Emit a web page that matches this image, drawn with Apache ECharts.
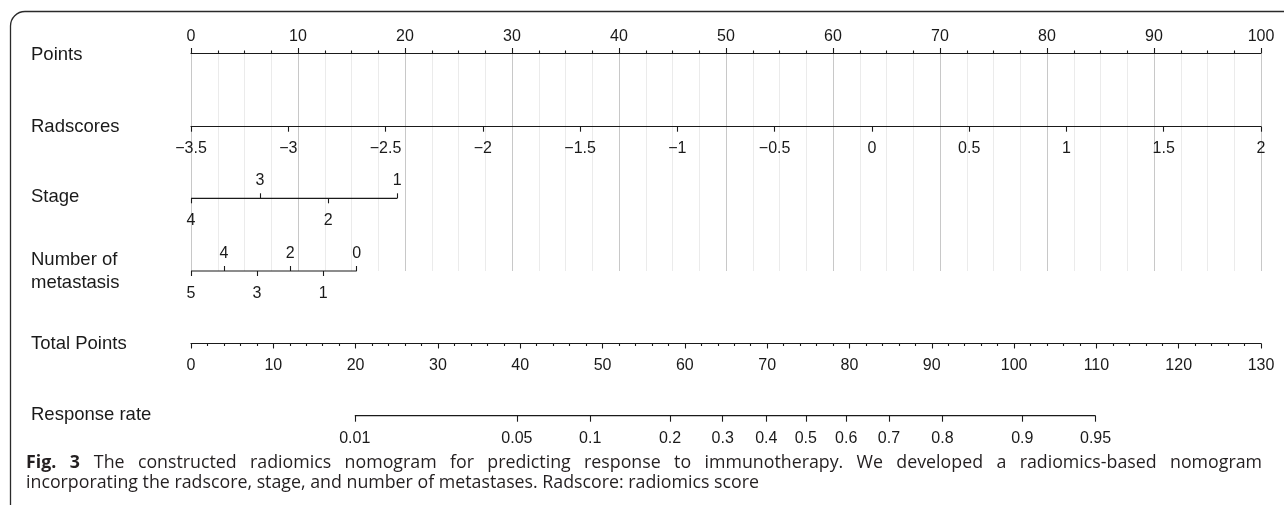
<!DOCTYPE html>
<html><head><meta charset="utf-8">
<script src="https://cdn.jsdelivr.net/npm/echarts@6/dist/echarts.min.js"></script>
<style>html,body{margin:0;padding:0;background:#fff}#c{width:1284px;height:505px}</style>
</head><body><div id="c"></div>
<script>
// ---------- DATA ----------
const pointsRange = [0, 100];
const pointsStep = 10;
const radscoreRange = [-3.5, 2];
const radscoreStep = 0.5;
const stageLabels = ['4', '3', '2', '1'];
const stagePoints = [0, 6.45, 12.83, 19.28];
const metLabels = ['5', '4', '3', '2', '1', '0'];
const metPoints = [0, 3.08, 6.17, 9.28, 12.36, 15.49];
const totalRange = [0, 130];
const totalStep = 10;
const rrLabels = ['0.01', '0.05', '0.1', '0.2', '0.3', '0.4', '0.5', '0.6', '0.7', '0.8', '0.9', '0.95'];
const rrTotalPoints = [19.9, 39.6, 48.5, 58.2, 64.6, 69.9, 74.7, 79.6, 84.8, 91.3, 101.0, 109.9];
const rowLabels = ['Points', 'Radscores', 'Stage', 'Number of', 'metastasis', 'Total Points', 'Response rate'];
const captionBold = 'Fig. 3';
const captionLine1 = 'The constructed radiomics nomogram for predicting response to immunotherapy. We developed a radiomics-based nomogram';
const captionLine2 = 'incorporating the radscore, stage, and number of metastases. Radscore: radiomics score';

// ---------- LAYOUT ----------
const FONT = '"Liberation Sans", Arial, sans-serif';
const CAPFONT = '"Open Sans", "Noto Sans", sans-serif';
const ink = '#1a1a1a';
const capInk = '#231f20';
const L = 191, R = 23;
const Y = { points: 53, rad: 126.7, stage: 198.3, met: 271, total: 343.5, rr: 415.7 };
const labelY = [54.5, 126.7, 197.3, 260, 282.7, 344.3, 415];

const lbl = (margin, extra) => Object.assign({ fontSize: 16, color: ink, fontFamily: FONT, margin: margin, showMinLabel: true, showMaxLabel: true }, extra || {});
const tick = (len, extra) => Object.assign({ show: true, length: len, lineStyle: { color: ink, width: 1.1 } }, extra || {});
const line = { show: true, onZero: false, lineStyle: { color: ink, width: 1.2 } };
const noAxisLine = { show: false, onZero: false };
const noLine = { show: false };
const lookup = (vals, labs) => v => { for (let i = 0; i < vals.length; i++) if (Math.abs(vals[i] - v) < 1e-6) return labs[i]; return ''; };
const pick = (arr, parity) => arr.filter((_, i) => i % 2 === parity);
const minus = v => (v < 0 ? '\u2212' + Math.abs(v) : String(v));

const grids = [
  { left: L, right: R, top: Y.points, height: Y.met - Y.points },
  { left: L, right: R, top: Y.rad, height: 0 },
  { left: L, right: R, top: Y.stage, height: 0 },
  { left: L, right: R, top: Y.met, height: 0 },
  { left: L, right: R, top: Y.total, height: 0 },
  { left: L, right: R, top: Y.rr, height: 0 }
];
const yAxes = grids.map((g, i) => ({ gridIndex: i, type: 'value', min: 0, max: 1, show: false }));

const xAxes = [
  { gridIndex: 0, type: 'value', position: 'top', min: pointsRange[0], max: pointsRange[1], interval: pointsStep,
    axisLine: line, axisTick: tick(5), minorTick: { show: true, splitNumber: 4, length: 2.5, lineStyle: { color: ink, width: 1.1 } },
    axisLabel: lbl(8.5), splitLine: { show: true, lineStyle: { color: '#c8c8c8', width: 1 } },
    minorSplitLine: { show: true, lineStyle: { color: '#ebebeb', width: 1 } } },
  { gridIndex: 1, type: 'value', position: 'bottom', min: radscoreRange[0], max: radscoreRange[1], interval: radscoreStep,
    axisLine: line, axisTick: tick(5), axisLabel: lbl(13.5, { formatter: minus }), splitLine: noLine },
  { gridIndex: 2, type: 'value', position: 'top', min: pointsRange[0], max: pointsRange[1],
    axisLine: noAxisLine, axisTick: tick(5, { customValues: pick(stagePoints, 1) }),
    axisLabel: lbl(10, { customValues: pick(stagePoints, 1), formatter: lookup(stagePoints, stageLabels) }), splitLine: noLine },
  { gridIndex: 2, type: 'value', position: 'bottom', min: pointsRange[0], max: pointsRange[1],
    axisLine: noAxisLine, axisTick: tick(5, { customValues: pick(stagePoints, 0) }),
    axisLabel: lbl(14.5, { customValues: pick(stagePoints, 0), formatter: lookup(stagePoints, stageLabels) }), splitLine: noLine },
  { gridIndex: 3, type: 'value', position: 'top', min: pointsRange[0], max: pointsRange[1],
    axisLine: noAxisLine, axisTick: tick(5, { customValues: pick(metPoints, 1) }),
    axisLabel: lbl(9.5, { customValues: pick(metPoints, 1), formatter: lookup(metPoints, metLabels) }), splitLine: noLine },
  { gridIndex: 3, type: 'value', position: 'bottom', min: pointsRange[0], max: pointsRange[1],
    axisLine: noAxisLine, axisTick: tick(5, { customValues: pick(metPoints, 0) }),
    axisLabel: lbl(14.5, { customValues: pick(metPoints, 0), formatter: lookup(metPoints, metLabels) }), splitLine: noLine },
  { gridIndex: 4, type: 'value', position: 'bottom', min: totalRange[0], max: totalRange[1], interval: totalStep,
    axisLine: line, axisTick: tick(5), minorTick: { show: true, splitNumber: 5, length: 2.5, lineStyle: { color: ink, width: 1.1 } },
    axisLabel: lbl(14), splitLine: noLine, minorSplitLine: noLine },
  { gridIndex: 5, type: 'value', position: 'bottom', min: totalRange[0], max: totalRange[1],
    axisLine: noAxisLine, axisTick: tick(6, { customValues: rrTotalPoints }),
    axisLabel: lbl(14.5, { customValues: rrTotalPoints, formatter: lookup(rrTotalPoints, rrLabels) }), splitLine: noLine }
];

const segment = (xi, yi, vals) => ({
  type: 'line', xAxisIndex: xi, yAxisIndex: yi, clip: false, silent: true, showSymbol: false, symbol: 'none',
  lineStyle: { color: ink, width: 1.2 }, data: [[vals[0], 0], [vals[vals.length - 1], 0]]
});
const series = [segment(3, 2, stagePoints), segment(5, 3, metPoints), segment(7, 5, rrTotalPoints)];

// ---------- caption: first line justified, second line natural ----------
const cv = document.createElement('canvas').getContext('2d');
const capSize = 17.8;
const measure = (t, bold) => { cv.font = (bold ? 'bold ' : '') + capSize + 'px ' + CAPFONT; return cv.measureText(t).width; };
const tokens = captionBold.split(' ').map(t => ({ t, b: true })).concat(captionLine1.split(' ').map(t => ({ t, b: false })));
const widths = tokens.map(k => measure(k.t, k.b));
const sumW = widths.reduce((a, b) => a + b, 0);
const capLeft = 26, capRight = 1262, afterBoldGap = 14, nBold = captionBold.split(' ').length;
const gap = (capRight - capLeft - sumW - afterBoldGap) / (tokens.length - 2);
const capEls = [];
let cx = capLeft;
tokens.forEach((k, i) => {
  capEls.push({ type: 'text', x: cx, y: 463,
    style: { text: k.t, fontSize: capSize, fontFamily: CAPFONT, fontWeight: k.b ? 'bold' : 'normal', fill: capInk, verticalAlign: 'middle', align: 'left' } });
  cx += widths[i] + (i === nBold - 1 ? afterBoldGap : gap);
});
capEls.push({ type: 'text', x: capLeft, y: 483,
  style: { text: captionLine2, fontSize: capSize, fontFamily: CAPFONT, fill: capInk, verticalAlign: 'middle', align: 'left' } });

const frameStyle = { stroke: '#2a2a2a', lineWidth: 1.3, fill: null };
const graphics = [
  { type: 'line', shape: { x1: 10.5, y1: 505, x2: 10.5, y2: 26 }, style: frameStyle },
  { type: 'arc', shape: { cx: 25, cy: 26, r: 14.5, startAngle: Math.PI, endAngle: Math.PI * 1.5, clockwise: true }, style: frameStyle },
  { type: 'line', shape: { x1: 25, y1: 11.5, x2: 1284, y2: 11.5 }, style: frameStyle }
].concat(rowLabels.map((t, i) => ({
  type: 'text', x: 31, y: labelY[i],
  style: { text: t, fontSize: 18.5, fontFamily: FONT, fill: ink, verticalAlign: 'middle', align: 'left' }
}))).concat(capEls);

const chart = echarts.init(document.getElementById('c'), null, { renderer: 'canvas' });
chart.setOption({
  animation: false,
  backgroundColor: '#fff',
  grid: grids, xAxis: xAxes, yAxis: yAxes, series: series,
  graphic: { elements: graphics }
});
</script></body></html>
